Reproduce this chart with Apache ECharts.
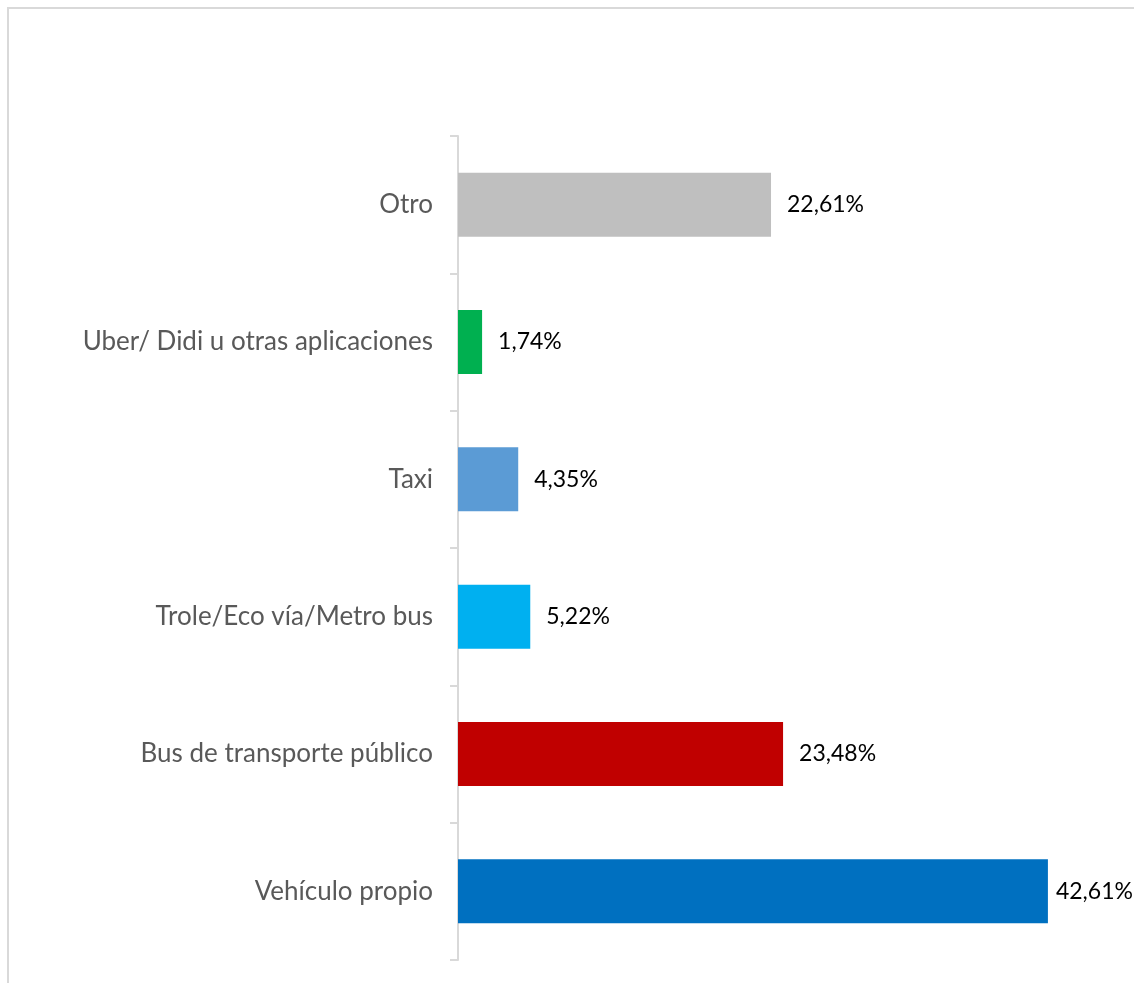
<!DOCTYPE html>
<html><head><meta charset="utf-8">
<script src="https://cdn.jsdelivr.net/npm/echarts@6/dist/echarts.min.js"></script>
<style>html,body{margin:0;padding:0;background:#fff}#c{width:1134px;height:983px}</style>
</head><body><div id="c"></div>
<script>
const categories = ['Vehículo propio','Bus de transporte público','Trole/Eco vía/Metro bus','Taxi','Uber/ Didi u otras aplicaciones','Otro'];
const values = [42.61, 23.48, 5.22, 4.35, 1.74, 22.61];
const colors = ['#0070C0','#C00000','#00B0F0','#5B9BD5','#00B050','#BFBFBF'];
const chart = echarts.init(document.getElementById('c'));
chart.setOption({
  animation:false,
  textStyle:{fontFamily:'Lato'},
  graphic:[{type:'rect',z:-1,shape:{x:8,y:8,width:1140,height:1000},style:{fill:'none',stroke:'#d9d9d9',lineWidth:2}}],
  grid:{left:458,right:53,top:136,bottom:23,containLabel:false},
  xAxis:{type:'value',min:0,max:45,show:false},
  yAxis:{type:'category',data:categories,
    axisLine:{show:true,lineStyle:{color:'#d9d9d9',width:2}},
    axisTick:{show:true,inside:false,length:8,lineStyle:{color:'#d9d9d9',width:2}},
    axisLabel:{margin:25,fontSize:26,color:'#595959',fontFamily:'Lato'}},
  series:[{type:'bar',barWidth:64,z:3,
    data:values.map((v,i)=>({value:v,itemStyle:{color:colors[i]},label:i===0?{distance:8}:undefined})),
    label:{show:true,position:'right',distance:16,fontSize:23,color:'#000',fontFamily:'Lato',
      formatter:p=>p.value.toFixed(2).replace('.',',')+'%'}}]
});
</script></body></html>
